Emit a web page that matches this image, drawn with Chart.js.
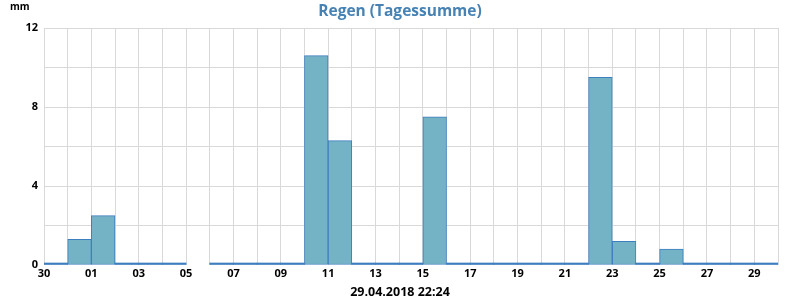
<!DOCTYPE html>
<html>
<head>
<meta charset="utf-8">
<script src="https://cdn.jsdelivr.net/npm/chart.js@4.4.0/dist/chart.umd.min.js"></script>
<style>
  html, body { margin: 0; padding: 0; background: #fff; }
</style>
</head>
<body>
<canvas id="regenChart" width="800" height="300"></canvas>
<script>
// one label per day, 30.03. .. 29.04.
const days = ['30', '31', '01', '02', '03', '04', '05', '06', '07', '08', '09', '10', '11', '12', '13', '14',
              '15', '16', '17', '18', '19', '20', '21', '22', '23', '24', '25', '26', '27', '28', '29'];
// Tagessumme in mm (null = keine Daten)
const rain = [0, 1.3, 2.5, 0, 0, 0, null, 0, 0, 0, 0, 10.6, 6.3, 0, 0, 0,
              7.5, 0, 0, 0, 0, 0, 0, 9.5, 1.2, 0, 0.8, 0, 0, 0, 0];
const yTicks = [0, 4, 8, 12];
const stamp = '29.04.2018 22:24';

const font = '"Open Sans", "DejaVu Sans", sans-serif';
const barFill = '#74b3c5';
const barLine = '#3d7ebf';

const unitLabel = {
    id: 'unitLabel',
    afterDraw(chart) {
        const c = chart.ctx;
        c.save();
        c.font = 'bold 10px ' + font;
        c.fillStyle = '#000';
        c.textBaseline = 'middle';
        c.fillText('mm', 10, 7);
        c.restore();
    }
};

const isZero = (c) => c.raw && c.raw.y === 0;

const ctx = document.getElementById('regenChart').getContext('2d');
const regenChart = new Chart(ctx, {
    type: 'bar',
    data: {
        datasets: [
            {
                label: 'Regen',
                data: rain.map((v, i) => ({ x: i + 0.5, y: v })),
                // zero days are drawn as a thin line on the baseline
                backgroundColor: (c) => isZero(c) ? barLine : barFill,
                borderColor: barLine,
                borderWidth: (c) => isZero(c) ? 0 : 1,
                borderSkipped: false,
                minBarLength: 2,
                barPercentage: 1,
                categoryPercentage: 1
            }
        ]
    },
    options: {
        responsive: false,
        animation: false,
        layout: {
            padding: 0
        },
        plugins: {
            legend: { display: false },
            tooltip: { enabled: false },
            title: {
                display: true,
                text: 'Regen (Tagessumme)',
                color: '#4682b4',
                font: { family: font, size: 15.5, weight: 'bold' },
                padding: { top: 2, bottom: 7.4 }
            },
            subtitle: {
                display: true,
                position: 'bottom',
                text: stamp,
                color: '#000',
                font: { family: font, size: 12.5, weight: 'bold' },
                padding: { top: 2, bottom: 0 }
            }
        },
        scales: {
            x: {
                type: 'linear',
                offset: false,
                min: 0,
                max: days.length,
                grid: { color: '#d9d9d9', drawTicks: false, offset: false },
                border: { display: false },
                afterFit: (scale) => { scale.height = 18; },
                ticks: {
                    stepSize: 1,
                    autoSkip: false,
                    maxRotation: 0,
                    padding: 2,
                    color: '#000',
                    font: { family: font, size: 11, weight: 'bold' },
                    callback: (v) => (v % 2 === 0 && v < days.length) ? days[v] : ''
                }
            },
            y: {
                min: 0,
                max: 12,
                grid: {
                    color: (c) => c.tick && c.tick.value === 0 ? 'rgba(0,0,0,0)' : '#d9d9d9',
                    drawTicks: false
                },
                border: { display: false },
                afterFit: (scale) => { scale.width = 44; },
                ticks: {
                    stepSize: 2,
                    padding: 6,
                    color: '#000',
                    font: { family: font, size: 11, weight: 'bold' },
                    callback: (v) => yTicks.includes(v) ? String(v) : ''
                }
            },
            // empty right axis, only keeps the margin on the right side
            yRight: {
                position: 'right',
                grid: { display: false },
                border: { display: false },
                ticks: { display: false },
                afterFit: (scale) => { scale.width = 22; }
            }
        }
    },
    plugins: [unitLabel]
});
</script>
</body>
</html>
